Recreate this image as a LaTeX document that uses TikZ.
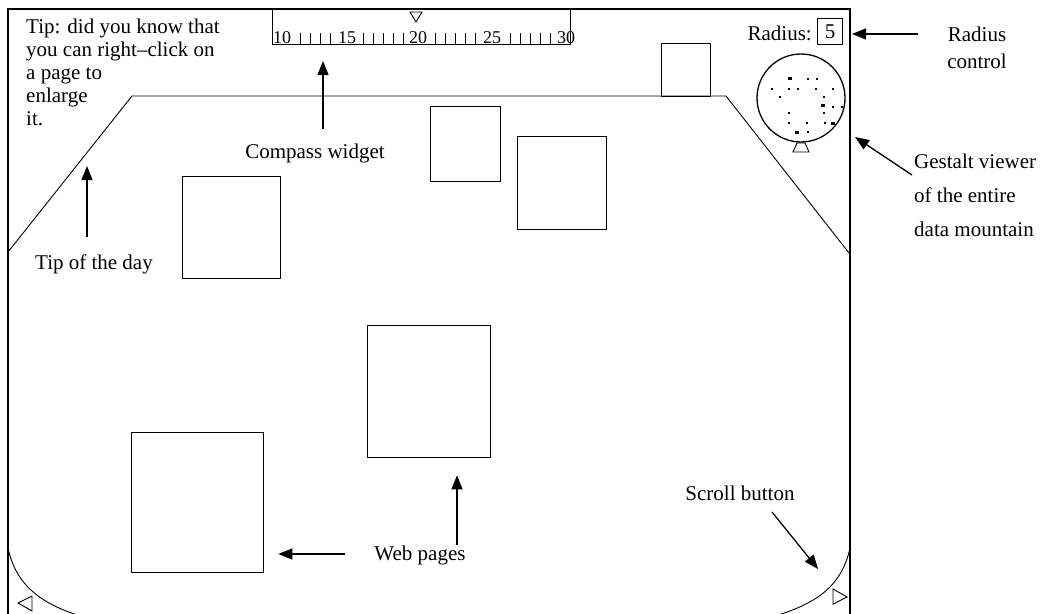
\documentclass[tikz,border=0pt]{standalone}
\usepackage{fontspec}
\setmainfont{Liberation Serif}
\usetikzlibrary{arrows.meta, positioning, calc}

\begin{document}
\begin{tikzpicture}[x=1pt, y=-1pt,
    frame/.style={line width=1.4pt},
    outline/.style={line width=0.9pt},
    page/.style={draw, line width=1.3pt, inner sep=0pt, anchor=north west},
    note/.style={font=\fontsize{21}{23}\selectfont, inner sep=0pt},
    callout/.style={-{Triangle[length=14pt, width=11pt]}, line width=1.3pt},
    scrollbtn/.style={draw, line width=0.9pt}
]
\useasboundingbox (0,0) rectangle (1040,613);
\clip (0,0) rectangle (1040,613);

% window frame, open at the bottom
\draw[frame] (8,620) -- (8,9) -- (850,9) -- (850,620);

% compass widget
\node[draw, line width=1.2pt, minimum width=298, minimum height=35, anchor=north west, inner sep=0pt] (compass) at (272,9) {};
\foreach \v/\x in {10/282, 15/347, 20/418, 25/492, 30/566}
  \node[font=\fontsize{18}{18}\selectfont, inner sep=0pt, anchor=base] at (\x,43) {\v};
\foreach \s/\n in {300/3, 363/4, 435/4, 510/4}
  \foreach \k in {0,...,\n}
    \draw (\s+10*\k,33) -- ++(0,11);
\draw[outline] (410,12) -- (422,12) -- (416,22) -- cycle;

% the mountain
\draw[outline] (8,252) -- (132,96) -- (726,96) -- (849,253);
\draw[outline] (8,548) .. controls (16,585) and (40,603) .. (80,616);
\draw[outline] (850,548) .. controls (842,585) and (818,603) .. (775,616);
\draw[scrollbtn] (18,603) -- (32,596) -- (32,611) -- cycle;
\draw[scrollbtn] (847,597) -- (833,589) -- (833,604) -- cycle;

% web pages
\node[page, minimum width=49, minimum height=53] (pagetop) at (661,43) {};
\node[page, minimum width=98, minimum height=102] (page1) at (182,176) {};
\node[page, minimum width=70, minimum height=75] (page2) at (430,106) {};
\node[page, minimum width=89, minimum height=93] (page3) at (517,136) {};
\node[page, minimum width=123, minimum height=132] (page4) at (367,325) {};
\node[page, minimum width=132, minimum height=140] (page5) at (131,432) {};

% gestalt viewer
\node[draw, circle, line width=1.3pt, minimum size=88, inner sep=0pt] (globe) at (801,98) {};
\draw[outline] (797,143) -- (805,143) -- (809,152) -- (793,152) -- cycle;
\foreach \x/\y in {808/79, 817/79, 772/89, 789/89, 798/89, 816/89, 833/89, 780/97, 824/97,
                   833/107, 842/107, 789/113, 824/113, 807/123, 789/123, 825/123, 808/132}
  \fill (\x-1,\y-1) rectangle ++(2,2);
\foreach \x/\y in {790/78, 823/105, 833/123, 797/132}
  \fill (\x-2,\y-1.5) rectangle ++(4,3);

% radius control
\node[note, draw, line width=1.1pt, minimum width=25, minimum height=26, anchor=north west] (radiusbox) at (817,18) {5};
\node[note, anchor=base east] (radiuslbl) at (812,40) {Radius:};

% labels
\node[note, anchor=base west, align=left] (tiptext) at (26,125)
  {Tip: did you know that\\you can right--click on\\a page to\\enlarge\\it.};
\node[note, anchor=base] (compasslbl) at (315,158) {Compass widget};
\node[note, anchor=base] (tiplbl) at (94,269) {Tip of the day};
\node[note, anchor=base] (weblbl) at (420,560) {Web pages};
\node[note, anchor=base] (scrolllbl) at (740,500) {Scroll button};
\node[note, anchor=base, align=center, font=\fontsize{21}{27}\selectfont] (radiusctl) at (977,68) {Radius\\control};
\node[note, anchor=base west, align=left, font=\fontsize{21}{34}\selectfont] (gestaltlbl) at (914,236)
  {Gestalt viewer\\of the entire\\data mountain};

% arrows
\coordinate (compasstail) at (323,129);
\coordinate (compasstip) at (323,61);
\coordinate (tiptail) at (87,237);
\coordinate (tiptip) at (87,166);
\coordinate (radiustail) at (918,34);
\coordinate (radiustip) at (852,34);
\coordinate (gestalttail) at (912,175);
\coordinate (gestalttip) at (855,137);
\coordinate (scrolltail) at (772,512);
\coordinate (scrolltip) at (818,569);
\coordinate (webtail1) at (345,554);
\coordinate (webtail2) at (457,545);
\draw[callout] (compasstail) -- (compasstip);
\draw[callout] (tiptail) -- (tiptip);
\draw[callout] (radiustail) -- (radiustip);
\draw[callout] (gestalttail) -- (gestalttip);
\draw[callout] (scrolltail) -- (scrolltip);
\draw[callout] (webtail1) -- ($(page5.east |- webtail1)+(14,0)$);
\draw[callout] (webtail2) -- ($(page4.south -| webtail2)+(0,17)$);
\end{tikzpicture}
\end{document}
